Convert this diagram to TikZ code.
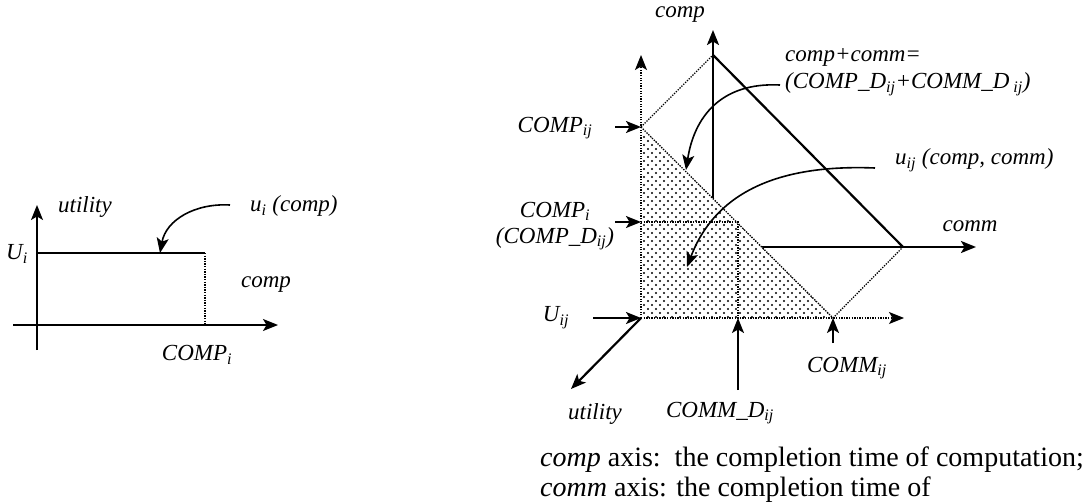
\documentclass[tikz,border=0pt]{standalone}
\usepackage{fontspec}
\setmainfont{Liberation Serif}
\usetikzlibrary{arrows.meta}
\newcommand{\sbx}[1]{\textsubscript{#1}}
\tikzset{
  lbl/.style={font=\fontsize{23}{26}\selectfont\itshape, inner sep=0pt},
  txt/.style={font=\fontsize{28}{30}\selectfont, inner sep=0pt, anchor=base west},
  tipa/.style={-{Stealth[length=15pt,width=12pt,inset=3.5pt]}},
  thinax/.style={line width=1.2pt, tipa},
  thickax/.style={line width=2.2pt},
  arr/.style={line width=1.6pt, tipa},
  dots/.style={line width=1.3pt, dash pattern=on 1.3pt off 1.3pt},
}
\begin{document}
\begin{tikzpicture}[x=1pt,y=-1pt]
\useasboundingbox (0,0) rectangle (1088,503);
% ---------- left diagram ----------
\coordinate (lo) at (37,325);
\coordinate (lyb) at (37,350);
\coordinate (lyt) at (37,205);
\coordinate (lxl) at (13,325);
\coordinate (lxr) at (278,325);
\coordinate (lu) at (37,253);
\coordinate (lc) at (205,253);
\coordinate (lcb) at (205,325);
\coordinate (lts) at (230,205);
\coordinate (ltt) at (160,253);
\draw[thinax] (lyb) -- (lyt);
\draw[thinax] (lxl) -- (lxr);
\draw[line width=1.3pt] (lu) -- (lc);
\draw[dots] (lc) -- (lcb);
\draw[arr] (lts) .. controls (195,203) and (166,220) .. (ltt);
\node[lbl] (lutil) at (85,207) {utility};
\node[lbl] (lUi) at (17,254) {U\sbx{i}};
\node[lbl] (lcomp) at (266,285) {comp};
\node[lbl] (lCOMPi) at (197,355) {COMP\sbx{i}};
\node[lbl, anchor=west] (lui) at (250,206) {u\sbx{i} (comp)};
% ---------- right diagram ----------
\coordinate (bo) at (713,247);
\coordinate (bt) at (713,55);
\coordinate (btop) at (713,30);
\coordinate (bocc) at (713,199);
\coordinate (bcocc) at (761,247);
\coordinate (bcr) at (976,247);
\coordinate (bd) at (903,247);
\coordinate (o) at (641,318);
\coordinate (ctop) at (641,55);
\coordinate (cij) at (641,127);
\coordinate (ci) at (641,222);
\coordinate (cd) at (738,222);
\coordinate (md) at (738,318);
\coordinate (mij) at (833,318);
\coordinate (mr) at (904,318);
\coordinate (ut) at (571,389);
% solid back axes and diagonal
\draw[thickax, tipa] (bocc) -- (btop);
\draw[thickax, tipa] (bcocc) -- (bcr);
\draw[thickax] (bt) -- (bd);
\draw[dots] (cij) -- (bt);
\draw[dots] (mij) -- (bd);
% shaded triangle
\fill[white] (cij) -- (o) -- (mij) -- cycle;
\begin{scope}
  \clip (cij) -- (o) -- (mij) -- cycle;
  \foreach \i in {0,...,48}{
    \foreach \j in {0,...,24}{
      \fill ({644+8*\j+4*mod(\i,2)}, {129+4*\i}) circle (1.1);
    }
  }
\end{scope}
\draw[dots] (cij) -- (mij);
\draw[dots] (ci) -- (cd) -- (md);
\draw[dots, tipa] (o) -- (ctop);
\draw[dots, tipa] (o) -- (mr);
\draw[arr, line width=2.2pt] (o) -- (ut);
% labels
\node[lbl] (rcomp) at (680,15) {comp};
\node[lbl] (rcomm) at (970,226) {comm};
\node[lbl] (rCOMPij) at (555,128) {COMP\sbx{ij}};
\node[lbl, align=center, font=\fontsize{23}{26}\selectfont\itshape] (rCOMPi) at (555,226) {COMP\sbx{i}\\(COMP\_D\sbx{ij})};
\node[lbl] (rUij) at (556,318) {U\sbx{ij}};
\node[lbl] (rutil) at (595,414) {utility};
\node[lbl] (rCOMMD) at (720,413) {COMM\_D\sbx{ij}};
\node[lbl] (rCOMMij) at (847,368) {COMM\sbx{ij}};
\node[lbl, anchor=west, align=left, font=\fontsize{23}{27}\selectfont\itshape] (rsum) at (785,72) {comp+comm=\\(COMP\_D\sbx{ij}+COMM\_D\,\sbx{ij})};
\node[lbl, anchor=west] (ruij) at (895,160) {u\sbx{ij} (comp, comm)};
% pointer arrows
\coordinate (pa1) at (615,127);
\coordinate (pa2) at (615,222);
\coordinate (pa3) at (593,318);
\coordinate (pa4) at (738,390);
\coordinate (pa5) at (833,343);
\draw[arr] (pa1) -- (cij);
\draw[arr] (pa2) -- (ci);
\draw[arr] (pa3) -- (o);
\draw[arr] (pa4) -- (md);
\draw[arr] (pa5) -- (mij);
% curved arrows
\coordinate (c1s) at (780,85);
\coordinate (c1t) at (686,170);
\coordinate (c2s) at (875,168);
\coordinate (c2t) at (687,267);
\draw[arr] (c1s) .. controls (720,82) and (694,118) .. (c1t);
\draw[arr] (c2s) .. controls (800,165) and (720,180) .. (c2t);
% caption text
\node[txt] (cap1) at (540,466) {\textit{comp} axis:\ \ the completion time of computation;};
\node[txt] (cap2) at (540,496) {\textit{comm} axis: the completion time of};
\end{tikzpicture}
\end{document}
